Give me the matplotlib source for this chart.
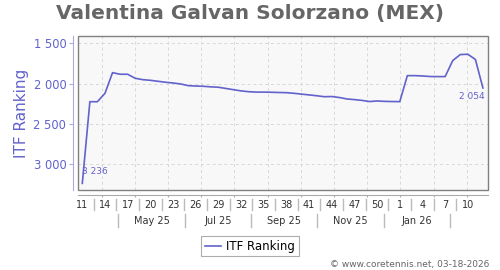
import numpy as np
import matplotlib
matplotlib.use("Agg")
import matplotlib.pyplot as plt
from matplotlib.patches import Rectangle
from matplotlib.lines import Line2D
from matplotlib.ticker import FuncFormatter

# ---- data ----
title = "Valentina Galvan Solorzano (MEX)"
series_name = "ITF Ranking"
ranking = [3236, 2224, 2224, 2120, 1864, 1884, 1884, 1934, 1951, 1959,
           1971, 1983, 1992, 2004, 2025, 2030, 2033, 2040, 2045, 2060,
           2075, 2090, 2100, 2105, 2105, 2107, 2110, 2112, 2120, 2130,
           2140, 2150, 2162, 2160, 2172, 2190, 2198, 2208, 2222, 2215,
           2220, 2222, 2223, 1901, 1901, 1905, 1912, 1913, 1913, 1715,
           1640, 1636, 1700, 2054]
week_labels = ["11", "14", "17", "20", "23", "26", "29", "32", "35", "38",
               "41", "44", "47", "50", "1", "4", "7", "10"]
week_label_idx = [0, 3, 6, 9, 12, 15, 18, 21, 24, 27, 30, 33, 36, 39, 42, 45, 48, 51]
month_labels = ["May 25", "Jul 25", "Sep 25", "Nov 25", "Jan 26"]
y_ticks = [1500, 2000, 2500, 3000]
credit = "\u00a9 www.coretennis.net, 03-18-2026"

# ---- style ----
blue = "#6262cc"
W, H = 500, 270
fig = plt.figure(figsize=(W / 100, H / 100), dpi=100)
L, R, T, B = 78.3, 487.7, 36, 190
ax = fig.add_axes([L / W, 1 - B / H, (R - L) / W, (B - T) / H])
ax.set_facecolor("#f8f8f8")

x = np.arange(len(ranking))
ax.plot(x, ranking, color=blue, lw=1.2, solid_joinstyle="round")
ax.set_xlim(-0.53, 53.63)
ax.set_ylim(3318, 1410)

# grid (monthly vertical, value horizontal)
grid_x = 2.57 + 4.389 * np.arange(12)
ax.set_xticks(grid_x)
ax.set_xticklabels([])
ax.set_yticks(y_ticks)
ax.yaxis.set_major_formatter(FuncFormatter(lambda v, p: f"{int(v):,}".replace(",", " ")))
ax.grid(True, color="#d8d8d8", ls=(0, (3, 3)), lw=0.7)
ax.set_axisbelow(True)

# box border
for s in ax.spines.values():
    s.set_visible(False)
ax.add_patch(Rectangle((0, 0), 1, 1, transform=ax.transAxes, fill=False,
                       ec="#808080", lw=1.0, clip_on=False, zorder=5))
ax.spines["left"].set_visible(True)
ax.spines["left"].set_position(("outward", 3.6))
ax.spines["left"].set_color("#aaaadd")
ax.spines["bottom"].set_visible(True)
ax.spines["bottom"].set_position(("outward", 3.6))
ax.spines["bottom"].set_color("#aaaaaa")
ax.tick_params(axis="y", colors="#aaaadd", labelcolor=blue, labelsize=8.3,
               length=3, width=0.8, pad=2)
ax.tick_params(axis="x", colors="#aaaaaa", length=1.5, width=0.8)

ax.set_ylabel(series_name, color=blue, fontsize=11, labelpad=3.5)

# week labels (first row) and separators
xt = ax.get_xaxis_transform()
def ypx(py):
    return (H - py - (H - B)) / (B - T)  # pixel y -> axes fraction

for i, lab in zip(week_label_idx, week_labels):
    ax.text(i, ypx(204.5), lab, transform=xt, ha="center", va="center",
            fontsize=7, color="#333333", clip_on=False)
for a, b in zip(week_label_idx[:-1], week_label_idx[1:]):
    m = (a + b) / 2
    ax.add_line(Line2D([m, m], [ypx(199.3), ypx(209.5)], transform=xt,
                       color="#bbbbbb", lw=1.0, clip_on=False))

# month labels (second row) and separators
seps = 4.76 + 8.778 * np.arange(len(month_labels) + 1)
for s in seps:
    ax.add_line(Line2D([s, s], [ypx(214), ypx(226.5)], transform=xt,
                       color="#bbbbbb", lw=1.0, clip_on=False))
for k, lab in enumerate(month_labels):
    ax.text((seps[k] + seps[k + 1]) / 2, ypx(220.5), lab, transform=xt,
            ha="center", va="center", fontsize=7, color="#333333", clip_on=False)

# first/last value annotations
ax.annotate(f"{ranking[0]:,}".replace(",", " "), (x[0], ranking[0]),
            xytext=(0, 5), textcoords="offset points", ha="left", va="bottom",
            fontsize=6.5, color=blue)
ax.annotate(f"{ranking[-1]:,}".replace(",", " "), (x[-1], ranking[-1]),
            xytext=(1, -3), textcoords="offset points", ha="right", va="top",
            fontsize=6.5, color=blue)

fig.text(0.5, 1 - 13 / H, title, ha="center", va="center", fontsize=14.5,
         fontweight="bold", color="#666666")

leg = fig.legend([Line2D([], [], color=blue, lw=1.2)], [series_name],
                 loc="center", bbox_to_anchor=(250 / W, 1 - 246.3 / H),
                 fontsize=8.5, frameon=True, fancybox=False, edgecolor="#999999",
                 handlelength=1.4, handletextpad=0.4, borderpad=0.3,
                 borderaxespad=0)
leg.get_frame().set_linewidth(0.8)

fig.text(489 / W, 1 - 264 / H, credit, ha="right", va="center", fontsize=6.5,
         color="#666666")

fig.savefig("out.png", dpi=100, facecolor="white")
